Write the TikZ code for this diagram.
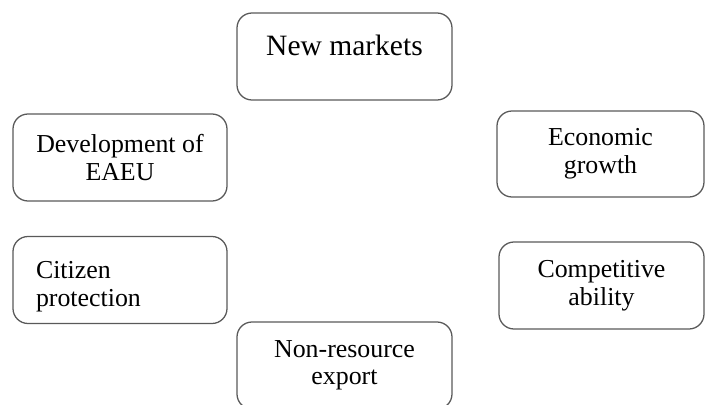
\documentclass[tikz,border=0pt]{standalone}
\usepackage{fontspec}
\setmainfont{Liberation Serif}
\usetikzlibrary{positioning}

\begin{document}
\begin{tikzpicture}[
  goal/.style={draw=black!65, line width=0.9pt, rounded corners=0.375cm,
    align=center, inner sep=0pt, minimum width=5.35cm, minimum height=2.175cm,
    font=\fontsize{18.4}{19.6}\selectfont}
]
\useasboundingbox (0,0) rectangle (17.625,10.125);
\clip (0,0) rectangle (17.625,10.125);

% top box
\node[goal, minimum width=5.375cm, text depth=0.575cm,
  font=\fontsize{21}{24}\selectfont] (markets) at (8.6125,8.7125) {New markets};

% left boxes
\node[goal] (eaeu) at (3.0,6.1875) {Development of\\EAEU};
\node[goal, align=left, text width=4.2cm, text height=0.75cm] (citizen) at (3.0,3.125) {Citizen\\protection};

% right boxes
\node[goal, minimum width=5.175cm, minimum height=2.15cm] (growth) at (15.0125,6.275) {Economic\\growth};
\node[goal, minimum width=5.125cm] (ability) at (15.0375,2.9875) {Competitive\\ability};

% bottom box
\node[goal, minimum width=5.375cm] (export) at (8.6125,0.9875) {Non-resource\\export};
\end{tikzpicture}
\end{document}
